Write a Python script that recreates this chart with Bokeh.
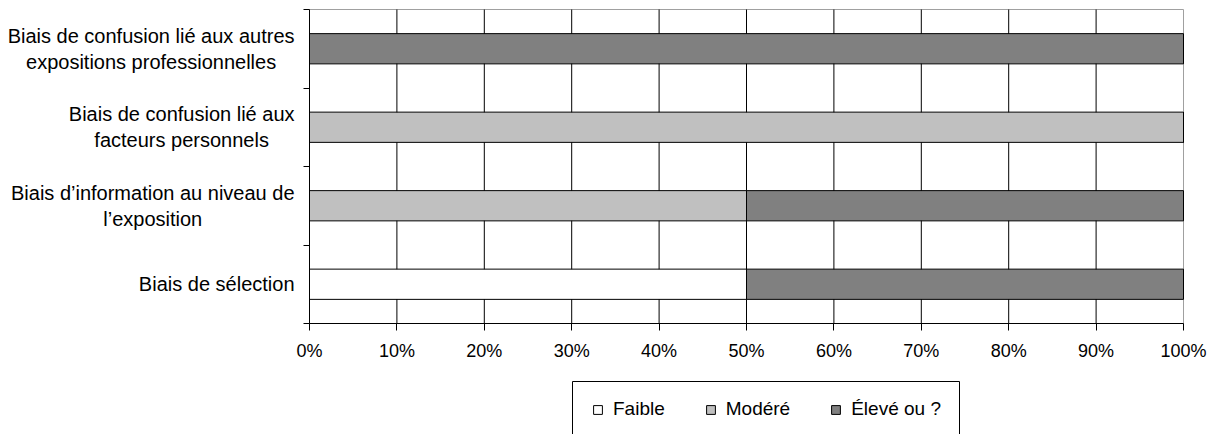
from bokeh.plotting import figure
from bokeh.models import (Range1d, FixedTicker, NumeralTickFormatter, CustomJSTickFormatter,
                          Legend, LegendItem, Label, LinearAxis, BoxAnnotation, ColumnDataSource)
from bokeh.embed import file_html
from bokeh.resources import INLINE

# Bias categories, listed from the bottom bar to the top bar
categories = [
    "Biais de sélection",
    "Biais d’information au niveau de\nl’exposition",
    "Biais de confusion lié aux\nfacteurs personnels",
    "Biais de confusion lié aux autres\nexpositions professionnelles",
]
levels = ["Faible", "Modéré", "Élevé ou ?"]

# Share of studies per risk level (fractions of 1)
faible = [0.5, 0.0, 0.0, 0.0]
modere = [0.0, 0.5, 1.0, 0.0]
eleve = [0.5, 0.5, 0.0, 1.0]

x_ticks = [0.0, 0.1, 0.2, 0.3, 0.4, 0.5, 0.6, 0.7, 0.8, 0.9, 1.0]
level_colors = ["#ffffff", "#c0c0c0", "#808080"]

FONT = "Liberation Sans"

# Canvas size and the pixel box of the plotting area inside it
W, H = 1217, 434
PLOT_L, PLOT_R, PLOT_T, PLOT_B = 309, 1183, 9, 323
n = len(categories)
ppx = (PLOT_R - PLOT_L) / 1.0
ppy = (PLOT_B - PLOT_T) / n


def px_x(sx):
    return (sx - PLOT_L) / ppx


def px_y(sy):
    return (PLOT_B - sy) / ppy


source = ColumnDataSource(dict(
    y=[i + 0.5 for i in range(n)],
    faible=faible, modere=modere, eleve=eleve,
))

# The frame covers the whole canvas; axes sit at fixed data locations
p = figure(width=W, height=H, output_backend="svg", toolbar_location=None,
           x_range=Range1d(px_x(0), px_x(W)), y_range=Range1d(px_y(H), px_y(0)),
           x_axis_location=None, y_axis_location=None, min_border=0)
p.background_fill_color = "white"
p.border_fill_color = "white"
p.outline_line_color = None
p.grid.visible = False

# Grey border around the plotting area (top and right remain visible)
p.add_layout(BoxAnnotation(left=0, right=1, bottom=0, top=n, fill_color=None,
                           line_color="#a0a0a0", line_alpha=1, line_width=1, level="underlay"))

# Vertical grid lines at the inner percentage ticks
inner = x_ticks[1:-1]
p.segment(x0=inner, x1=inner, y0=[0] * len(inner), y1=[n] * len(inner),
          line_color="black", line_width=1)

bars = p.hbar_stack(["faible", "modere", "eleve"], y="y", height=0.385, source=source,
                    fill_color=level_colors, line_color="black", line_width=1)

# x axis: percentages
xa = LinearAxis(fixed_location=0, bounds=(0, 1), ticker=FixedTicker(ticks=x_ticks),
                formatter=NumeralTickFormatter(format="0%"))
xa.axis_line_color = "black"
xa.major_tick_line_color = "black"
xa.major_tick_out = 7
xa.major_tick_in = 0
xa.minor_tick_line_color = None
xa.major_label_standoff = 10
xa.major_label_text_font = FONT
xa.major_label_text_font_size = "18px"
xa.major_label_text_color = "black"
p.add_layout(xa, "below")

# y axis: only tick marks between categories
ya = LinearAxis(fixed_location=0, bounds=(0, n), ticker=FixedTicker(ticks=list(range(n + 1))),
                formatter=CustomJSTickFormatter(code="return ''"))
ya.axis_line_color = "black"
ya.major_tick_line_color = "black"
ya.major_tick_out = 6
ya.major_tick_in = 0
ya.minor_tick_line_color = None
p.add_layout(ya, "left")

# Category names, right-aligned next to the axis, lines centred
for i, cat in enumerate(categories):
    p.add_layout(Label(x=0, y=i + 0.5, x_offset=-15, text=cat,
                       anchor="center_right", text_align="center", text_baseline="middle",
                       text_font=FONT, text_font_size="20px", text_color="black",
                       text_line_height=1.2))

# Legend frame below the chart
p.add_layout(BoxAnnotation(left=px_x(572), right=px_x(959), top=px_y(381), bottom=px_y(H + 5),
                           fill_color="white", fill_alpha=1, line_color="black",
                           line_alpha=1, line_width=1))

legend = Legend(items=[LegendItem(label=l, renderers=[r]) for l, r in zip(levels, bars)],
                orientation="horizontal", location=(592, 13), margin=0,
                padding=16, spacing=40, glyph_width=11, glyph_height=11,
                label_standoff=10, label_height=24,
                label_text_font=FONT, label_text_font_size="19px", label_text_color="black",
                border_line_color=None, background_fill_alpha=0)
p.add_layout(legend)

open("out.html", "w").write(file_html(p, INLINE))
